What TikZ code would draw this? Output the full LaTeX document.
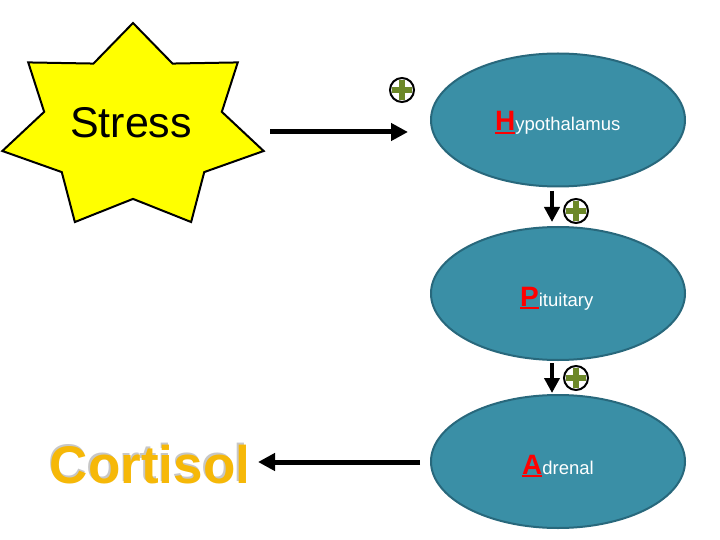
\documentclass[tikz,border=0pt]{standalone}
\usepackage{fontspec}
\setmainfont{Liberation Sans}
\usetikzlibrary{shapes.geometric,arrows.meta}
\definecolor{organ}{RGB}{58,143,166}
\definecolor{organline}{RGB}{40,104,124}
\definecolor{plusgreen}{RGB}{108,136,40}
\definecolor{cortcol}{RGB}{246,184,8}
\definecolor{starfill}{RGB}{255,255,0}
\tikzset{
  organbox/.style={ellipse, draw=organline, line width=2pt, fill=organ,
    minimum width=254pt, minimum height=133pt, inner sep=0pt},
  bigarrow/.style={line width=5pt, -{Triangle[length=17pt,width=17pt]}},
  smallarrow/.style={line width=4pt, -{Triangle[length=15pt,width=15pt]}},
  pluscirc/.style={circle, draw=black, line width=2pt, minimum size=24pt, inner sep=0pt},
  plusbar/.style={plusgreen, line width=6pt},
  organtext/.style={anchor=base west, inner sep=0pt, text=white,
    font=\fontsize{18.5}{18.5}\selectfont},
}
\newcommand{\initial}[1]{{\fontsize{28}{28}\selectfont\bfseries\color{red}\vtop{\hbox{#1}\kern1.2pt\hrule height 2.2pt}}}
\newcommand{\plussign}[2]{%
  \node[pluscirc] (#1) at #2 {};
  \draw[plusbar] ([xshift=-10pt]#1.center) -- ([xshift=10pt]#1.center);
  \draw[plusbar] ([yshift=-10pt]#1.center) -- ([yshift=10pt]#1.center);
}
\begin{document}
\begin{tikzpicture}[x=1pt,y=-1pt]
\useasboundingbox (0,0) rectangle (720,540);
\fill[white] (0,0) rectangle (720,540);

% star
\begin{scope}[shift={(133,127.7)}, x=134pt, y=104.7pt]
  \draw[fill=starfill, line width=2pt, line join=miter]
    (90:1) \foreach \k in {1,...,13} { -- ({90+\k*180/7}:{1-0.32*mod(\k,2)}) } -- cycle;
\end{scope}
\node[anchor=base, inner sep=0pt, font=\fontsize{43}{43}\selectfont] (stress) at (131,138) {Stress};

% organs
\node[organbox] (hyp) at (558,120) {};
\node[organbox] (pit) at (558,293.5) {};
\node[organbox] (adr) at (558,461.5) {};

\node[organtext] (hyptext) at (495,131) {\initial{H}ypothalamus};
\node[organtext] (pittext) at (520,306) {\initial{P}ituitary};
\node[organtext] (adrtext) at (522,474) {\initial{A}drenal};

% cortisol
\node[anchor=base, inner sep=0pt, text=black!22, font=\bfseries\fontsize{53}{53}\selectfont] (cortshadow) at (148.5,481) {Cortisol};
\node[anchor=base, inner sep=0pt, text=cortcol, font=\bfseries\fontsize{53}{53}\selectfont] (cortisol) at (150,483) {Cortisol};

% arrows
\coordinate (s1) at (270,132);
\coordinate (s2) at (408,132);
\draw[bigarrow] (s1) -- (s2);
\coordinate (c1) at (420,462);
\coordinate (c2) at (258,462);
\draw[bigarrow] (c1) -- (c2);

\coordinate (a1) at (552,191);
\coordinate (a2) at (552,222);
\draw[smallarrow] (a1) -- (a2);
\coordinate (b1) at (552,363);
\coordinate (b2) at (552,393);
\draw[smallarrow] (b1) -- (b2);

% plus signs
\plussign{p1}{(402,90)}
\plussign{p2}{(576,211)}
\plussign{p3}{(576,378)}
\end{tikzpicture}
\end{document}
